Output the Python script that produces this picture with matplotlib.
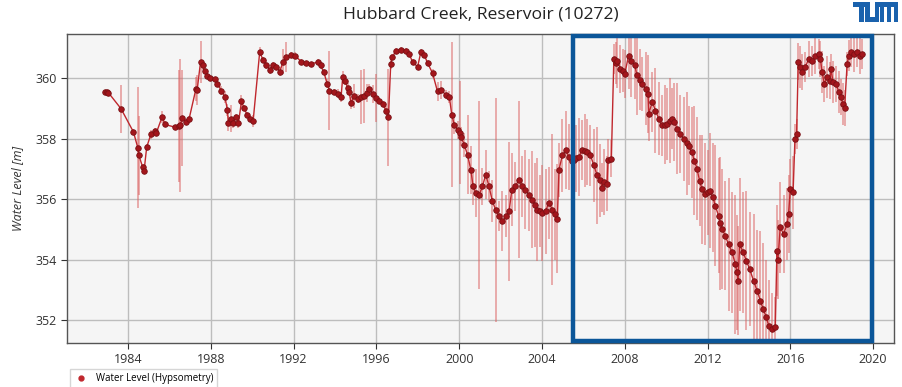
import numpy as np
import matplotlib
matplotlib.use("Agg")
import matplotlib.pyplot as plt
from matplotlib.patches import Rectangle
from matplotlib.lines import Line2D

plt.rcParams['font.family'] = ['Open Sans', 'DejaVu Sans']

# water level time series (decimal year, level [m], error [m])
years = [
    1982.90, 1982.97, 1983.05, 1983.66, 1984.26, 1984.47, 1984.52, 1984.70, 1984.77, 1984.90,
    1985.10, 1985.30, 1985.37, 1985.65, 1985.78, 1986.26, 1986.45, 1986.52, 1986.62, 1986.82,
    1986.95, 1987.28, 1987.34, 1987.50, 1987.60, 1987.70, 1987.83, 1987.95, 1988.19, 1988.30,
    1988.51, 1988.68, 1988.80, 1988.85, 1988.95, 1989.07, 1989.23, 1989.33, 1989.48, 1989.61,
    1989.75, 1989.88, 1990.04, 1990.36, 1990.52, 1990.68, 1990.84, 1991.00, 1991.17, 1991.33,
    1991.49, 1991.65, 1991.89, 1992.05, 1992.37, 1992.61, 1992.85, 1993.17, 1993.30, 1993.46,
    1993.62, 1993.73, 1993.94, 1994.16, 1994.29, 1994.37, 1994.48, 1994.61, 1994.69, 1994.77,
    1994.93, 1995.10, 1995.23, 1995.42, 1995.55, 1995.66, 1995.82, 1995.98, 1996.14, 1996.30,
    1996.46, 1996.58, 1996.69, 1996.77, 1996.94, 1997.18, 1997.42, 1997.58, 1997.75, 1997.99,
    1998.15, 1998.31, 1998.47, 1998.71, 1998.95, 1999.11, 1999.36, 1999.52, 1999.64, 1999.76,
    1999.92, 2000.02, 2000.08, 2000.24, 2000.40, 2000.56, 2000.67, 2000.80, 2000.96, 2001.12,
    2001.28, 2001.44, 2001.60, 2001.76, 2001.93, 2002.09, 2002.25, 2002.41, 2002.54, 2002.70,
    2002.89, 2003.05, 2003.20, 2003.37, 2003.53, 2003.65, 2003.77, 2003.90, 2004.01, 2004.17,
    2004.33, 2004.50, 2004.62, 2004.74, 2004.82, 2004.98, 2005.14, 2005.30, 2005.45, 2005.54,
    2005.66, 2005.78, 2005.94, 2006.06, 2006.18, 2006.34, 2006.50, 2006.66, 2006.82, 2006.90,
    2006.98, 2007.14, 2007.19, 2007.35, 2007.47, 2007.55, 2007.63, 2007.79, 2007.92, 2008.00,
    2008.18, 2008.30, 2008.48, 2008.59, 2008.72, 2008.83, 2009.00, 2009.12, 2009.16, 2009.32,
    2009.48, 2009.64, 2009.80, 2009.92, 2010.04, 2010.16, 2010.28, 2010.40, 2010.52, 2010.68,
    2010.84, 2011.00, 2011.08, 2011.24, 2011.36, 2011.49, 2011.61, 2011.73, 2011.89, 2012.00,
    2012.10, 2012.26, 2012.37, 2012.53, 2012.62, 2012.70, 2012.85, 2013.01, 2013.18, 2013.34,
    2013.42, 2013.47, 2013.55, 2013.71, 2013.87, 2014.03, 2014.22, 2014.39, 2014.55, 2014.68,
    2014.84, 2014.95, 2015.11, 2015.27, 2015.35, 2015.40, 2015.51, 2015.67, 2015.84, 2015.91,
    2016.00, 2016.13, 2016.22, 2016.30, 2016.38, 2016.48, 2016.56, 2016.72, 2016.88, 2017.04,
    2017.20, 2017.36, 2017.45, 2017.53, 2017.64, 2017.77, 2017.90, 2017.96, 2018.06, 2018.22,
    2018.33, 2018.44, 2018.54, 2018.62, 2018.74, 2018.82, 2018.94, 2019.09, 2019.22, 2019.35,
    2019.46,
]
levels = [
    359.55, 359.54, 359.52, 358.99, 358.22, 357.70, 357.45, 357.06, 356.92, 357.72,
    358.14, 358.24, 358.20, 358.73, 358.47, 358.38, 358.42, 358.45, 358.68, 358.55,
    358.66, 359.65, 359.62, 360.53, 360.42, 360.25, 360.06, 360.00, 359.98, 359.82,
    359.59, 359.37, 358.95, 358.51, 358.66, 358.51, 358.71, 358.51, 359.23, 359.00,
    358.79, 358.66, 358.57, 360.87, 360.60, 360.44, 360.28, 360.44, 360.38, 360.22,
    360.55, 360.71, 360.77, 360.75, 360.55, 360.49, 360.48, 360.53, 360.42, 360.20,
    359.81, 359.59, 359.53, 359.48, 359.37, 360.03, 359.92, 359.68, 359.53, 359.17,
    359.42, 359.32, 359.37, 359.42, 359.50, 359.65, 359.48, 359.35, 359.26, 359.15,
    358.93, 358.71, 360.47, 360.69, 360.91, 360.94, 360.91, 360.80, 360.53, 360.38,
    360.88, 360.77, 360.50, 360.17, 359.56, 359.61, 359.45, 359.39, 358.79, 358.46,
    358.29, 358.20, 358.07, 357.80, 357.47, 356.97, 356.42, 356.20, 356.14, 356.42,
    356.81, 356.42, 355.93, 355.65, 355.43, 355.27, 355.43, 355.60, 356.31, 356.42,
    356.64, 356.42, 356.31, 356.14, 355.98, 355.80, 355.65, 355.60, 355.54, 355.60,
    355.87, 355.65, 355.50, 355.35, 356.97, 357.45, 357.62, 357.40, 357.25, 357.28,
    357.35, 357.39, 357.63, 357.60, 357.56, 357.45, 357.12, 356.79, 356.62, 356.38,
    356.57, 356.51, 357.28, 357.34, 360.64, 360.50, 360.58, 360.31, 360.25, 360.14,
    360.75, 360.58, 360.42, 360.09, 359.95, 359.81, 359.65, 359.48, 358.82, 359.21,
    358.93, 358.66, 358.44, 358.46, 358.49, 358.60, 358.66, 358.55, 358.33, 358.15,
    357.99, 357.85, 357.77, 357.55, 357.27, 357.00, 356.61, 356.33, 356.17, 356.22,
    356.28, 356.06, 355.78, 355.45, 355.20, 355.01, 354.79, 354.51, 354.24, 353.85,
    353.58, 353.30, 354.51, 354.24, 353.96, 353.69, 353.30, 352.97, 352.64, 352.36,
    352.09, 351.81, 351.70, 351.76, 354.29, 354.00, 355.07, 354.84, 355.18, 355.51,
    356.33, 356.22, 357.99, 358.16, 360.55, 360.36, 360.20, 360.36, 360.64, 360.58,
    360.75, 360.80, 360.64, 360.20, 359.81, 360.03, 359.92, 360.31, 359.87, 359.81,
    359.54, 359.37, 359.15, 359.02, 360.47, 360.75, 360.86, 360.80, 360.86, 360.75,
    360.80,
]
errors = [
    0.05, 0.05, 0.05, 0.80, 0.10, 2.00, 1.30, 0.10, 0.10, 0.10,
    0.15, 0.10, 0.10, 0.20, 0.10, 0.05, 1.85, 2.20, 1.60, 0.10,
    0.10, 0.40, 0.50, 0.70, 0.15, 0.10, 0.10, 0.05, 0.05, 0.10,
    0.15, 0.20, 0.20, 0.25, 0.45, 0.15, 0.10, 0.15, 0.20, 0.10,
    0.10, 0.10, 0.20, 0.15, 0.10, 0.15, 0.15, 0.10, 0.10, 0.15,
    0.40, 0.50, 0.10, 0.10, 0.10, 0.05, 0.05, 0.10, 0.10, 0.10,
    0.15, 1.30, 0.10, 0.15, 0.15, 0.20, 0.15, 0.15, 0.10, 0.20,
    0.40, 0.15, 0.90, 0.90, 0.30, 0.15, 0.30, 0.80, 0.10, 0.10,
    0.15, 1.60, 0.15, 0.10, 0.10, 0.10, 0.10, 0.10, 0.10, 0.10,
    0.10, 0.10, 0.10, 0.15, 0.30, 0.30, 0.15, 0.20, 2.40, 0.30,
    0.30, 1.70, 0.30, 0.40, 1.30, 0.80, 0.60, 0.80, 3.10, 0.60,
    0.80, 0.50, 0.70, 3.70, 0.50, 1.00, 0.70, 2.30, 1.20, 0.80,
    2.60, 1.00, 1.30, 1.20, 1.60, 1.40, 1.70, 1.20, 1.60, 1.40,
    1.20, 2.50, 1.50, 1.80, 0.90, 1.20, 1.30, 1.10, 1.00, 1.20,
    1.10, 1.30, 1.00, 1.20, 1.10, 1.00, 1.20, 1.60, 1.20, 0.80,
    1.10, 0.90, 0.70, 0.60, 0.50, 0.70, 0.90, 0.80, 0.70, 0.80,
    1.10, 1.20, 1.10, 1.30, 1.00, 0.90, 1.20, 1.30, 0.90, 1.00,
    1.40, 1.20, 1.00, 1.30, 1.20, 1.40, 1.00, 1.30, 1.50, 1.30,
    1.40, 1.70, 1.30, 1.50, 1.80, 1.70, 1.50, 1.80, 1.70, 1.40,
    1.90, 1.80, 2.00, 1.90, 2.20, 2.00, 1.80, 2.20, 2.00, 2.30,
    1.90, 1.80, 2.20, 2.00, 2.30, 1.90, 2.20, 2.00, 2.30, 2.20,
    1.90, 1.50, 1.20, 1.00, 1.50, 1.30, 1.50, 1.30, 1.20, 1.30,
    1.00, 1.20, 0.50, 0.50, 0.60, 0.70, 0.60, 0.50, 0.60, 0.50,
    0.60, 0.50, 0.60, 0.70, 0.60, 0.70, 0.60, 0.50, 0.70, 0.60,
    0.70, 0.60, 0.70, 0.60, 0.40, 0.50, 0.50, 0.60, 0.50, 0.60,
    0.50,
]
x_ticks = [1984, 1988, 1992, 1996, 2000, 2004, 2008, 2012, 2016, 2020]
y_ticks = [352, 354, 356, 358, 360]
highlight = (2005.49, 2019.95, 351.31, 361.38)  # start, end, low, high

fig = plt.figure(figsize=(9.02, 3.87), dpi=100)
ax = fig.add_axes([0.0743, 0.1137, 0.9167, 0.7983])
ax.set_facecolor('#f5f5f5')

ax.errorbar(years, levels, yerr=errors, fmt='none', ecolor='#dc6464',
            elinewidth=1.1, alpha=0.65, zorder=2)
ax.plot(years, levels, '-', color='#c0272d', lw=1.0, zorder=3)
ax.plot(years, levels, 'o', color='#a3161c', mec='#7a1014', mew=0.6, ms=4.0, zorder=4)

ax.set_xlim(1981.05, 2021.0)
ax.set_ylim(351.24, 361.46)
ax.set_xticks(x_ticks)
ax.set_yticks(y_ticks)
ax.tick_params(labelsize=9, colors='#333333', length=4, width=0.8)
ax.grid(True, color='#bdbdbd', lw=1.0, zorder=0)
ax.set_axisbelow(True)
for s in ax.spines.values():
    s.set_color('#555555')
    s.set_linewidth(1.0)

ax.set_ylabel('Water Level [m]', fontsize=9, style='italic', color='#333333')
ax.yaxis.set_label_coords(-0.052, 0.5)

fig.text(0.533, 0.962, 'Hubbard Creek, Reservoir (10272)', ha='center', va='center',
         fontsize=12.6, color='#222222')

x0, x1, y0, y1 = highlight
ax.add_patch(Rectangle((x0, y0), x1 - x0, y1 - y0, fill=False, edgecolor='#0b5699',
                       lw=3.2, clip_on=False, zorder=10))

handle = Line2D([], [], ls='none', marker='o', color='#c0272d', ms=3.5)
fig.legend([handle], ['Water Level (Hypsometry)'], loc='upper left',
           bbox_to_anchor=(0.072, 0.058), fontsize=7, frameon=True,
           fancybox=False, edgecolor='#cccccc', handletextpad=0.8,
           borderpad=0.4, handlelength=1.5, bbox_transform=fig.transFigure)

# TUM logo, drawn as blocks in pixel space
logo = [(853, 868, 2, 6.5), (858.5, 863.5, 2, 22), (865, 870, 2, 22), (865, 879, 17.5, 22),
        (874.5, 879, 2, 22), (879, 898, 2, 6.5), (880, 884, 2, 22), (886.7, 890.7, 2, 22),
        (893.5, 898, 2, 22)]
for lx0, lx1, ly0, ly1 in logo:
    fig.patches.append(Rectangle((lx0 / 902, 1 - ly1 / 387), (lx1 - lx0) / 902,
                                 (ly1 - ly0) / 387, transform=fig.transFigure,
                                 color='#1a62ad', lw=0))

fig.savefig('out.png', dpi=100)
